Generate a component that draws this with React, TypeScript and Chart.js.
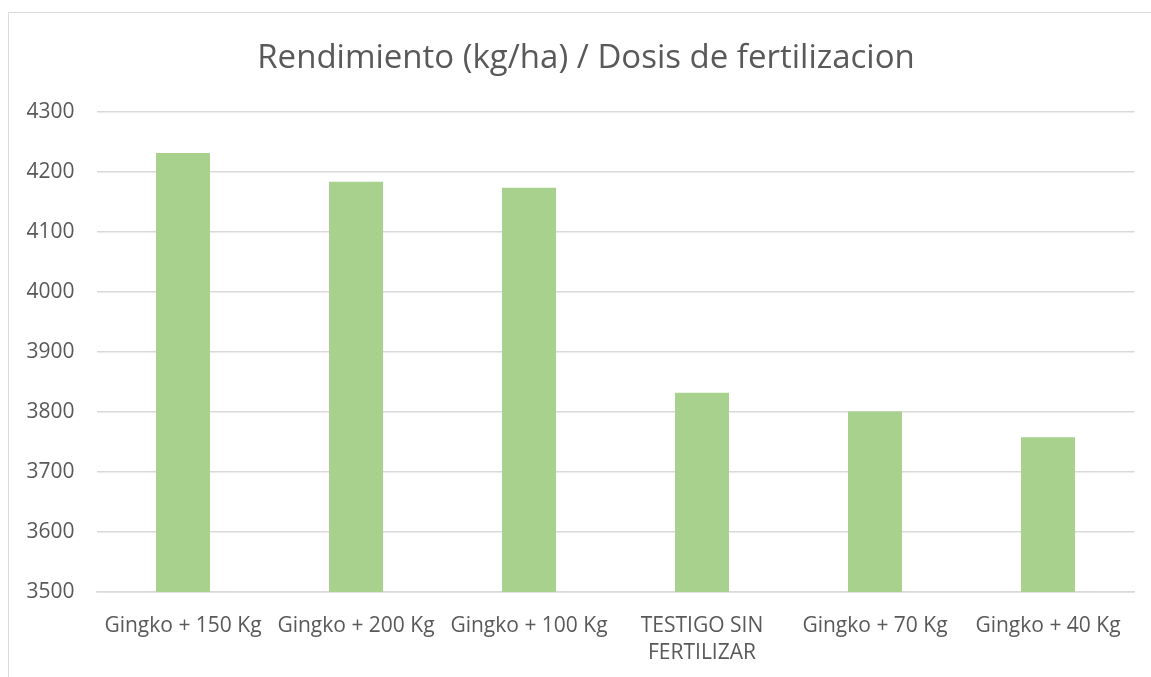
import React, { useEffect, useRef } from "react";
import { Chart, registerables } from "chart.js";

Chart.register(...registerables);

const titleText = "Rendimiento (kg/ha) / Dosis de fertilizacion";
const categories: (string | string[])[] = [
  "Gingko + 150 Kg",
  "Gingko + 200 Kg",
  "Gingko + 100 Kg",
  ["TESTIGO SIN", "FERTILIZAR"],
  "Gingko + 70 Kg",
  "Gingko + 40 Kg",
];
const yieldValues = [4232, 4184, 4174, 3832, 3801, 3758];
const yMin = 3500;
const yMax = 4300;
const yStep = 100;

export default function App() {
  const ref = useRef<HTMLCanvasElement | null>(null);

  useEffect(() => {
    document.body.style.margin = "0";
    document.body.style.overflow = "hidden";
    if (!ref.current) return;
    const chart = new Chart(ref.current, {
      type: "bar",
      data: {
        labels: categories,
        datasets: [
          {
            label: "Rendimiento",
            data: yieldValues,
            backgroundColor: "#A9D18E",
            borderWidth: 0,
            categoryPercentage: 1,
            barPercentage: 0.312,
            yAxisID: "y",
          },
        ],
      },
      options: {
        animation: false,
        responsive: false,
        devicePixelRatio: 1,
        layout: { padding: { left: 13, right: 0, top: 10, bottom: 0 } },
        plugins: {
          legend: { display: false },
          tooltip: { enabled: false },
          title: {
            display: true,
            text: titleText,
            color: "#595959",
            font: { family: "'Open Sans'", size: 33, weight: "normal", lineHeight: 1.2 },
            padding: { top: 15.5, bottom: 34 },
          },
        },
        scales: {
          x: {
            grid: { display: false, drawTicks: false },
            border: { display: true, color: "#d9d9d9", width: 1.5 },
            ticks: {
              color: "#595959",
              font: { family: "'Open Sans'", size: 21, lineHeight: 1.3 },
              padding: 20,
              maxRotation: 0,
              minRotation: 0,
              autoSkip: false,
            },
            afterFit: (scale: any) => {
              scale.height = 84;
            },
          },
          y: {
            position: "left",
            min: yMin,
            max: yMax,
            grid: { color: "#d9d9d9", lineWidth: 1.5, drawTicks: false },
            border: { display: false },
            ticks: {
              stepSize: yStep,
              color: "#595959",
              font: { family: "'Open Sans'", size: 21 },
              padding: 22,
              callback: (v: any) => String(v),
            },
            afterFit: (scale: any) => {
              scale.width = 74.5;
            },
          },
          yRight: {
            type: "linear",
            position: "right",
            display: true,
            grid: { display: false, drawTicks: false },
            border: { display: false },
            ticks: { display: false },
            afterFit: (scale: any) => {
              scale.width = 15.5;
            },
          },
        },
      },
    });
    return () => chart.destroy();
  }, []);

  return (
    <div
      style={{
        position: "absolute",
        left: 8,
        top: 12,
        width: 1143,
        height: 665,
        borderTop: "1.5px solid #d9d9d9",
        borderLeft: "1.5px solid #d9d9d9",
        boxSizing: "border-box",
        background: "#fff",
      }}
    >
      <canvas ref={ref} width={1141} height={663} style={{ display: "block" }} />
    </div>
  );
}
